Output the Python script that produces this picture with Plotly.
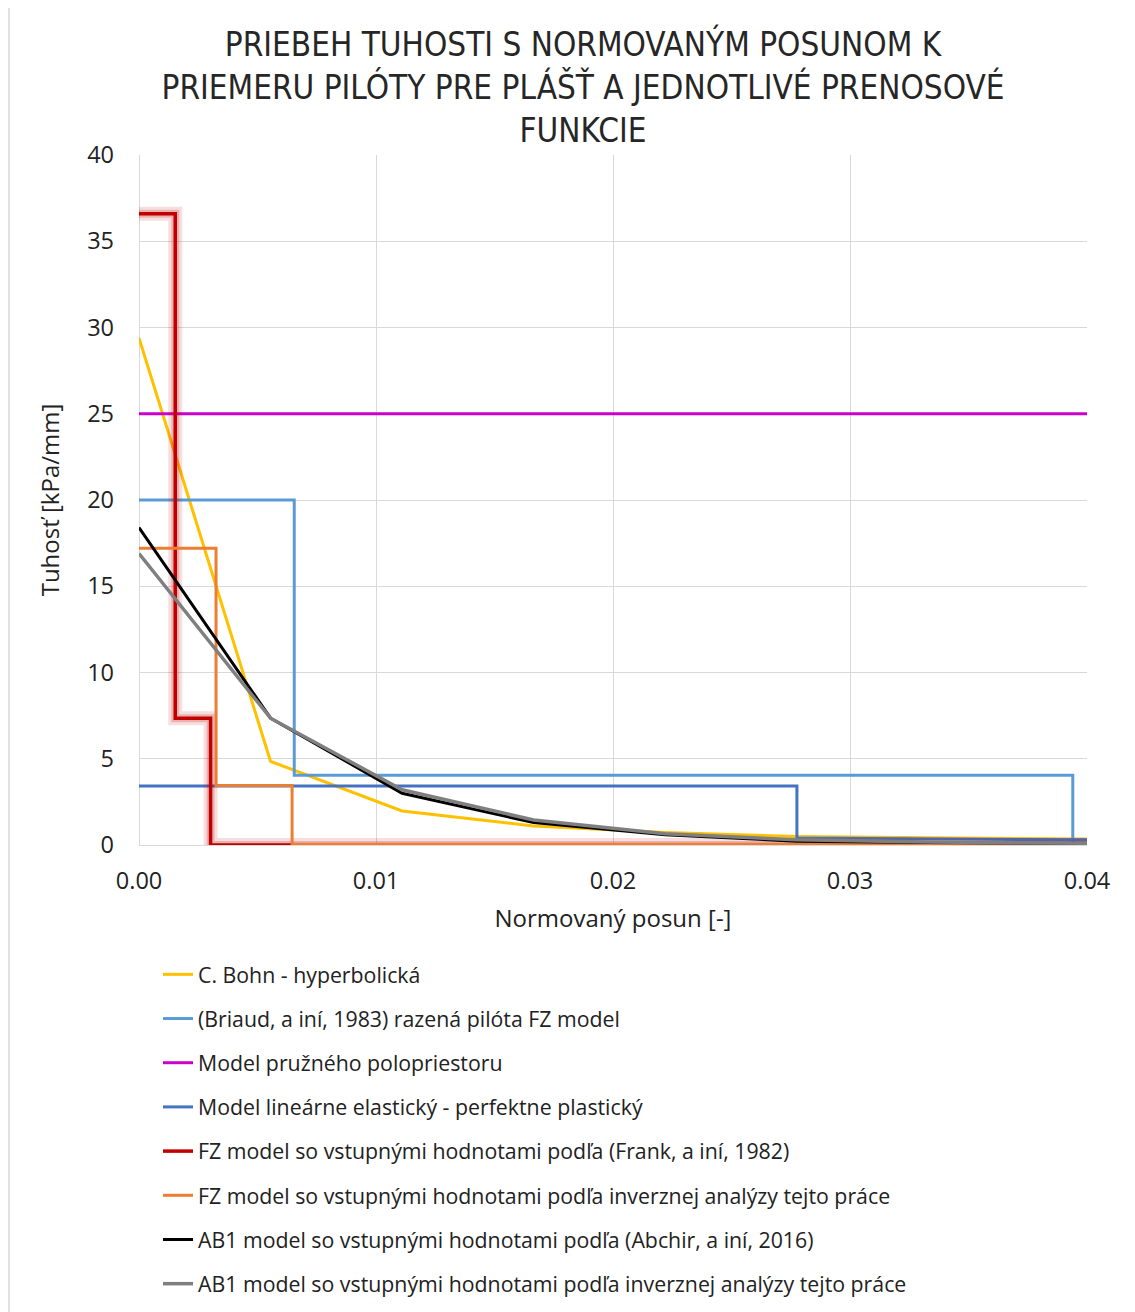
import plotly.graph_objects as go

# ---- data ----
x_bohn = [0, 0.00555, 0.0111, 0.01665, 0.0222, 0.02775, 0.0333, 0.03885, 0.04]
y_bohn = [29.4, 4.85, 1.97, 1.1, 0.72, 0.5, 0.42, 0.36, 0.35]

x_briaud = [0, 0.00655, 0.00655, 0.0394, 0.0394, 0.04]
y_briaud = [20.0, 20.0, 4.05, 4.05, 0.1, 0.1]

x_half = [0, 0.04]
y_half = [25.0, 25.0]

x_lepp = [0, 0.02776, 0.02776, 0.04]
y_lepp = [3.42, 3.42, 0.4, 0.3]

x_frank = [0, 0.00153, 0.00153, 0.00302, 0.00302, 0.04]
y_frank = [36.6, 36.6, 7.35, 7.35, 0.0, 0.0]

x_fzinv = [0, 0.00325, 0.00325, 0.00646, 0.00646, 0.04]
y_fzinv = [17.2, 17.2, 3.45, 3.45, 0.05, 0.05]

x_ab1 = [0, 0.00555, 0.0111, 0.01665, 0.0222, 0.02775, 0.0333, 0.03885, 0.04]
y_abchir = [18.4, 7.35, 3.0, 1.3, 0.6, 0.22, 0.15, 0.1, 0.1]
y_ab1inv = [16.9, 7.35, 3.2, 1.45, 0.65, 0.3, 0.17, 0.12, 0.1]

names = [
    "C. Bohn - hyperbolická",
    "(Briaud, a iní, 1983) razená pilóta FZ model",
    "Model pružného polopriestoru",
    "Model lineárne elastický - perfektne plastický",
    "FZ model so vstupnými hodnotami podľa (Frank, a iní, 1982)",
    "FZ model so vstupnými hodnotami podľa inverznej analýzy tejto práce",
    "AB1 model so vstupnými hodnotami podľa (Abchir, a iní, 2016)",
    "AB1 model so vstupnými hodnotami podľa inverznej analýzy tejto práce",
]
colors = ["#FFC000", "#5B9BD5", "#CC00CC", "#4472C4", "#C00000", "#ED7D31", "#000000", "#7F7F7F"]
xs = [x_bohn, x_briaud, x_half, x_lepp, x_frank, x_fzinv, x_ab1, x_ab1]
ys = [y_bohn, y_briaud, y_half, y_lepp, y_frank, y_fzinv, y_abchir, y_ab1inv]
widths = [3, 3, 3, 3, 3.5, 3, 3, 3.5]

FONT = "Open Sans"

fig = go.Figure()
for i, (n, c, x, y, w) in enumerate(zip(names, colors, xs, ys, widths)):
    if i == 4:
        # soft glow under the Frank series
        fig.add_trace(go.Scatter(x=x, y=y, mode="lines", showlegend=False, hoverinfo="skip",
                                 legendgroup=f"g{i}",
                                 line=dict(color="rgba(192,0,0,0.13)", width=14)))
        fig.add_trace(go.Scatter(x=x, y=y, mode="lines", showlegend=False, hoverinfo="skip",
                                 legendgroup=f"g{i}",
                                 line=dict(color="rgba(192,0,0,0.2)", width=8)))
    fig.add_trace(go.Scatter(x=x, y=y, mode="lines", name=n, legendgroup=f"g{i}",
                             line=dict(color=c, width=w)))

# page body has an 8px margin: work in figure coordinates = screen - 8
OFF = 8
W, H = 1135 - OFF, 1312 - OFF
L, R, T, B = 139 - OFF, 1087 - OFF, 155 - OFF, 845 - OFF
pw, ph = R - L, B - T

def px(xs_):  # screen x -> paper
    return (xs_ - OFF - L) / pw

def py(ys_):  # screen y -> paper
    return (B - (ys_ - OFF)) / ph

fig.update_layout(
    width=W, height=H,
    margin=dict(l=L, r=W - R, t=T, b=H - B, autoexpand=False),
    paper_bgcolor="white", plot_bgcolor="white",
    font=dict(family=FONT, size=21, color="#222222"),
    title=dict(
        text="PRIEBEH TUHOSTI S NORMOVANÝM POSUNOM K<br>PRIEMERU PILÓTY PRE PLÁŠŤ A JEDNOTLIVÉ PRENOSOVÉ<br>FUNKCIE",
        x=(583 - OFF) / W, xanchor="center", xref="container",
        y=1 - 48 / H, yanchor="top", yref="container",
        font=dict(family="Liberation Sans Narrow, DejaVu Sans Condensed, Roboto Condensed, Open Sans", size=33, color="#262626"),
    ),
    xaxis=dict(
        range=[0, 0.04], dtick=0.01, tick0=0, tickformat=".2f",
        showgrid=True, gridcolor="#D9D9D9", gridwidth=1.3,
        zeroline=True, zerolinecolor="#D9D9D9", zerolinewidth=1.3,
        showline=False, ticks="", ticklabelstandoff=19,
        tickfont=dict(size=23.5),
        title=dict(text="Normovaný posun [-]", standoff=15, font=dict(size=24)),
        fixedrange=True, automargin=False,
    ),
    yaxis=dict(
        range=[0, 40], dtick=5, tick0=0,
        showgrid=True, gridcolor="#D9D9D9", gridwidth=1.3,
        zeroline=True, zerolinecolor="#D9D9D9", zerolinewidth=1.3,
        showline=False, ticks="", ticklabelstandoff=24,
        tickfont=dict(size=23.5),
        title=dict(text="Tuhosť [kPa/mm]", standoff=20, font=dict(size=24)),
        fixedrange=True, automargin=False,
    ),
    legend=dict(
        x=px(158), xanchor="left", y=py(954), yanchor="top",
        font=dict(size=21.3, color="#222222"),
        tracegroupgap=13.5, bgcolor="rgba(0,0,0,0)",
        traceorder="grouped",
    ),
    shapes=[dict(type="rect", xref="paper", yref="paper",
                 x0=px(9), x1=px(1160), y0=py(1330), y1=py(7),
                 line=dict(color="#D9D9D9", width=1.5), fillcolor="rgba(0,0,0,0)", layer="below")],
)

fig.write_html("out.html")
